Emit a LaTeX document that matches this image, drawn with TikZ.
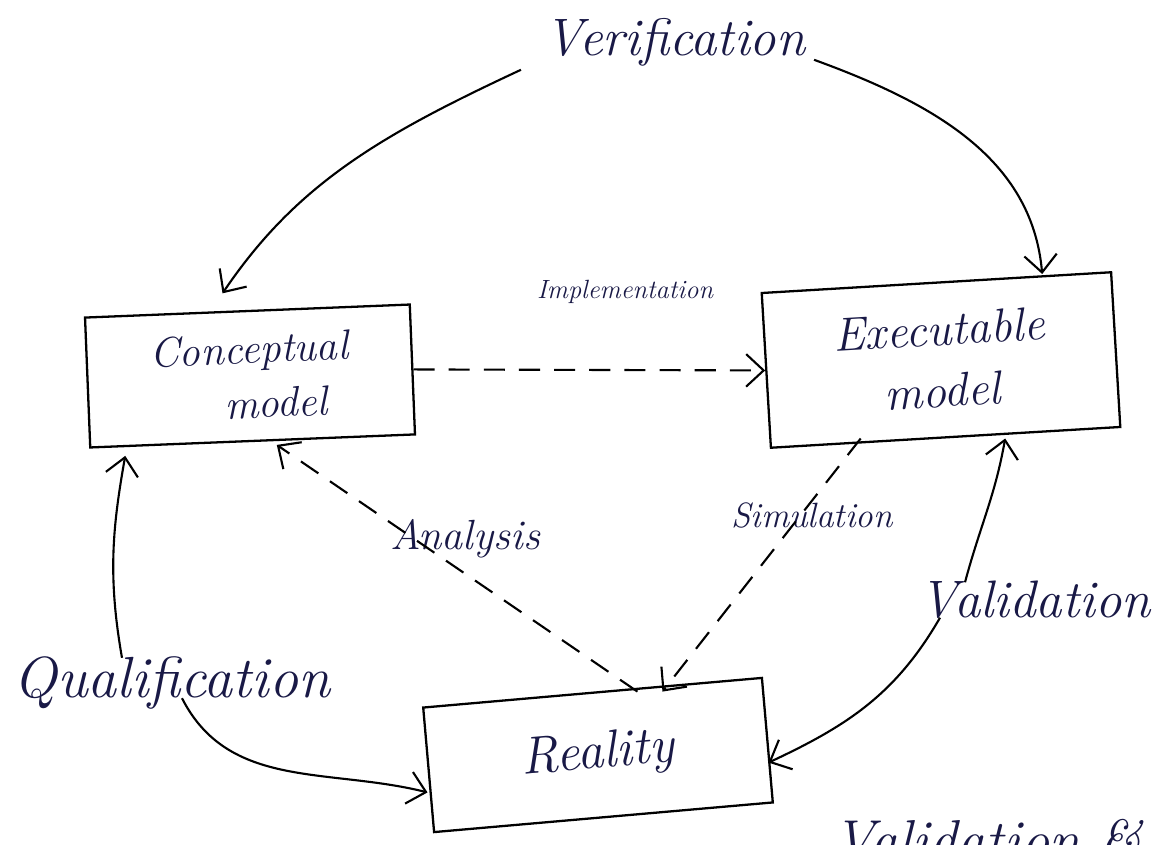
\documentclass[tikz,border=0pt]{standalone}
\usetikzlibrary{arrows.meta,calc}
\definecolor{ink}{RGB}{25,25,70}
\newcommand{\hw}[1]{\fontsize{#1}{1.3\dimexpr #1pt\relax}\selectfont\itshape}
\tikzset{
  box/.style={draw, line width=1.3pt, text=ink, align=center, inner sep=0pt},
  lbl/.style={text=ink, inner sep=2pt},
  conn/.style={line width=1.2pt, -{Straight Barb[length=3.5mm,width=6.5mm]}},
  dsh/.style={conn, dash pattern=on 12pt off 8pt},
}
\begin{document}
\begin{tikzpicture}
\useasboundingbox (0,0) rectangle (23.36,16.88);
\clip (0,0) rectangle (23.36,16.88);

% boxes
\node[box, minimum width=6.5cm, minimum height=2.6cm, rotate=2.3,
      font={\hw{24}}] (conc) at (5.0,9.36) {Conceptual\\\hspace*{1cm}model};
\node[box, minimum width=7.0cm, minimum height=3.1cm, rotate=3.4,
      font={\hw{27}}] (exe) at (18.82,9.68) {Executable\\model};
\node[box, minimum width=6.8cm, minimum height=2.5cm, rotate=5,
      font={\hw{30}}] (real) at (11.96,1.78) {Reality};

% labels
\node[lbl, font={\hw{30}}] (verif) at (13.5,16.04) {Verification};
\node[lbl, font={\hw{15}}] (impl) at (12.5,11.04) {Implementation};
\node[lbl, font={\hw{24}}] (anal) at (9.3,6.1) {Analysis};
\node[lbl, font={\hw{20}}] (simu) at (16.24,6.58) {Simulation};
\node[lbl, font={\hw{30}}] (valid) at (20.7,4.88) {Validation};
\node[lbl, font={\hw{33}}] (qual) at (3.44,3.22) {Qualification};
\node[lbl, font={\hw{32}}, anchor=base west] (vv) at (16.6,-0.3) {Validation \& Verification};

% verification arrows
\draw[conn, shorten >=0.4cm] ([xshift=-4mm,yshift=0mm]verif.south west)
   to[out=205,in=56] ([xshift=-0.72cm]conc.north);
\draw[conn, shorten >=0.15cm] ([xshift=1mm,yshift=2mm]verif.south east)
   to[out=-20,in=95] ([xshift=2.13cm]exe.north);

% implementation
\draw[dsh] (conc.east) -- (exe.west);

% analysis and simulation
\draw[dsh, shorten >=0.1cm] ([xshift=0.9cm]real.north) -- ([xshift=0.4cm]conc.south);
\draw[dsh] ([xshift=-1.7cm]exe.south) -- ([xshift=1.4cm]real.north);

% validation
\draw[conn] ([xshift=-1.4cm,yshift=-1mm]valid.north) to[out=75,in=-100] ([xshift=1.19cm]exe.south);
\draw[conn] ([xshift=-1.9cm,yshift=1mm]valid.south) to[out=-120,in=25] ([yshift=-0.45cm]real.east);

% qualification
\draw[conn, shorten >=0.28cm] ([xshift=-1.0cm,yshift=-1mm]qual.north) to[out=100,in=-100] ([xshift=-2.5cm]conc.south);
\draw[conn] ([xshift=0.2cm,yshift=3mm]qual.south) to[out=-63,in=166] ([yshift=-0.45cm]real.west);
\end{tikzpicture}
\end{document}
